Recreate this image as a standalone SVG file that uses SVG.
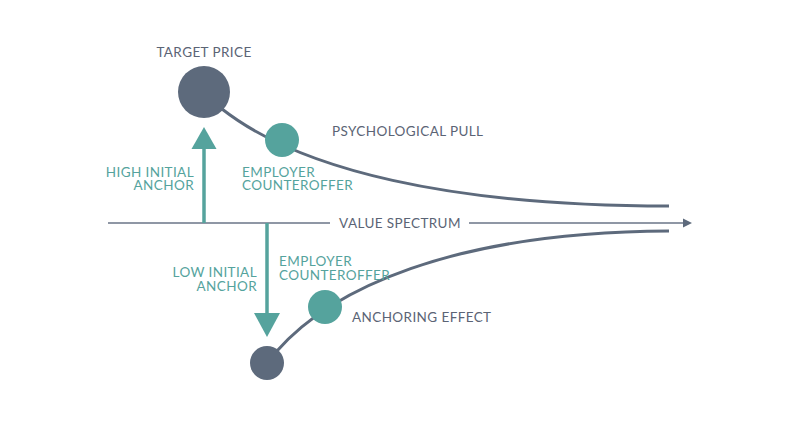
<svg xmlns="http://www.w3.org/2000/svg" width="800" height="447" viewBox="0 0 800 447">
<style>
.t{font-family:Lato,"Open Sans",sans-serif;font-size:13.5px;letter-spacing:0.4px}
.g{fill:#5b6475}
.c{fill:#55a39d}
.curve{fill:none;stroke:#5d6a7c;stroke-width:3;stroke-linecap:butt}
.axis{fill:none;stroke:#6a7587;stroke-width:1.5}
.tl{fill:none;stroke:#55a39d;stroke-width:3.5}
</style>
<defs>
<marker id="ax" markerWidth="10" markerHeight="10" refX="0" refY="5" orient="auto" markerUnits="userSpaceOnUse">
<path d="M0,0.5 L9,5 L0,9.5 Z" fill="#5d6a7c"/>
</marker>
</defs>
<rect width="800" height="447" fill="#ffffff"/>
<g id="connectors">
<line class="axis" x1="108" y1="223" x2="330" y2="223"/>
<line class="axis" x1="469" y1="223" x2="683" y2="223" marker-end="url(#ax)"/>
<path class="curve" d="M222,109 C300,170 450,206 669,206"/>
<path class="curve" d="M276,352 C330,290 450,232 669,231"/>
<line class="tl" x1="204" y1="223" x2="204" y2="148"/>
<path d="M204,127 L216.5,149 L191.5,149 Z" fill="#55a39d"/>
<line class="tl" x1="267" y1="223" x2="267" y2="314"/>
<path d="M267,337 L280,313 L254,313 Z" fill="#55a39d"/>
</g>
<g id="axis-label"><text class="t g" x="400" y="228" text-anchor="middle">VALUE SPECTRUM</text></g>
<g id="target-price">
<circle cx="204" cy="92" r="26" fill="#5d6a7c"/>
<text class="t g" x="204" y="57" text-anchor="middle">TARGET PRICE</text>
</g>
<g id="employer-counteroffer-top">
<circle cx="282" cy="140" r="17" fill="#55a39d"/>
<text class="t c" x="242" y="177">EMPLOYER</text>
<text class="t c" x="242" y="190">COUNTEROFFER</text>
</g>
<g id="psychological-pull"><text class="t g" x="332" y="136">PSYCHOLOGICAL PULL</text></g>
<g id="high-anchor">
<text class="t c" x="194" y="177" text-anchor="end">HIGH INITIAL</text>
<text class="t c" x="194" y="190" text-anchor="end">ANCHOR</text>
</g>
<g id="low-anchor">
<circle cx="267" cy="363" r="17" fill="#5d6a7c"/>
<text class="t c" x="257" y="277" text-anchor="end">LOW INITIAL</text>
<text class="t c" x="257" y="291" text-anchor="end">ANCHOR</text>
</g>
<g id="employer-counteroffer-bottom">
<circle cx="325" cy="307" r="17" fill="#55a39d"/>
<text class="t c" x="279" y="266">EMPLOYER</text>
<text class="t c" x="279" y="280">COUNTEROFFER</text>
</g>
<g id="anchoring-effect"><text class="t g" x="352" y="322">ANCHORING EFFECT</text></g>
</svg>
